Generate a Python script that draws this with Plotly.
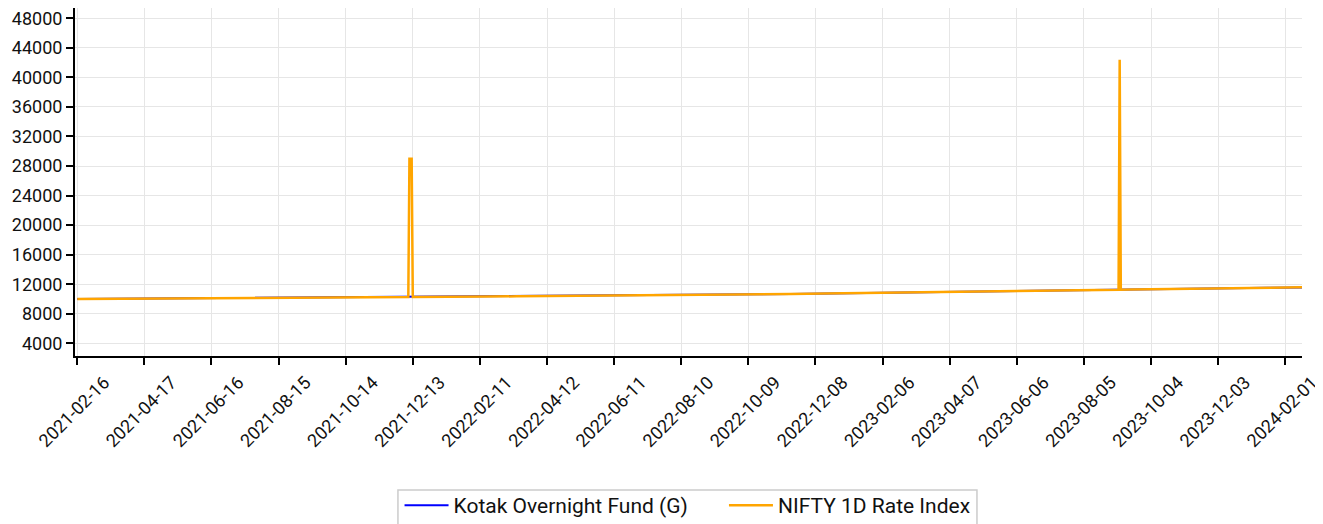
import plotly.graph_objects as go

kotak_dates = [
    "2021-02-16", "2021-03-16", "2021-04-16", "2021-05-16", "2021-06-16", "2021-07-16",
    "2021-08-16", "2021-09-16", "2021-10-16", "2021-11-16", "2021-12-16", "2022-01-16",
    "2022-02-16", "2022-03-16", "2022-04-16", "2022-05-16", "2022-06-16", "2022-07-16",
    "2022-08-16", "2022-09-16", "2022-10-16", "2022-11-16", "2022-12-16", "2023-01-16",
    "2023-02-16", "2023-03-16", "2023-04-16", "2023-05-16", "2023-06-16", "2023-07-16",
    "2023-08-16", "2023-09-16", "2023-10-16", "2023-11-16", "2023-12-16", "2024-01-16",
    "2024-02-16",
]
kotak_values = [
    10000, 10025, 10052, 10079, 10106, 10133,
    10160, 10187, 10214, 10242, 10270, 10298,
    10326, 10354, 10383, 10415, 10451, 10490,
    10533, 10578, 10626, 10676, 10728, 10782,
    10838, 10895, 10953, 11012, 11072, 11132,
    11193, 11254, 11316, 11378, 11441, 11504,
    11568,
]

nifty_dates = [
    "2021-02-16", "2021-03-16", "2021-04-16", "2021-05-16", "2021-06-16", "2021-07-16",
    "2021-08-16", "2021-09-16", "2021-10-16", "2021-11-16",
    "2021-12-09", "2021-12-10", "2021-12-12", "2021-12-13",
    "2021-12-16", "2022-01-16",
    "2022-02-16", "2022-03-16", "2022-04-16", "2022-05-16", "2022-06-16", "2022-07-16",
    "2022-08-16", "2022-09-16", "2022-10-16", "2022-11-16", "2022-12-16", "2023-01-16",
    "2023-02-16", "2023-03-16", "2023-04-16", "2023-05-16", "2023-06-16", "2023-07-16",
    "2023-08-16", "2023-09-05", "2023-09-06", "2023-09-07",
    "2023-09-16", "2023-10-16", "2023-11-16", "2023-12-16", "2024-01-16",
    "2024-02-16",
]
nifty_values = [
    10000, 10026, 10053, 10080, 10108, 10135,
    10163, 10190, 10218, 10246,
    10266, 29000, 29000, 10268,
    10275, 10303,
    10331, 10360, 10389, 10421, 10457, 10497,
    10540, 10586, 10634, 10685, 10737, 10792,
    10848, 10905, 10964, 11024, 11084, 11145,
    11207, 11250, 42400, 11252,
    11268, 11331, 11393, 11456, 11520,
    11584,
]

tick_labels = [
    "2021-02-16", "2021-04-17", "2021-06-16", "2021-08-15", "2021-10-14", "2021-12-13",
    "2022-02-11", "2022-04-12", "2022-06-11", "2022-08-10", "2022-10-09", "2022-12-08",
    "2023-02-06", "2023-04-07", "2023-06-06", "2023-08-05", "2023-10-04", "2023-12-03",
    "2024-02-01",
]
y_ticks = [4000, 8000, 12000, 16000, 20000, 24000, 28000, 32000, 36000, 40000, 44000, 48000]

fig = go.Figure()
fig.add_trace(go.Scatter(
    x=kotak_dates, y=kotak_values, mode="lines", name="Kotak Overnight Fund (G)",
    line=dict(color="#0000ff", width=2), legend="legend",
))
fig.add_trace(go.Scatter(
    x=nifty_dates, y=nifty_values, mode="lines", name="NIFTY 1D Rate Index",
    line=dict(color="#ffa500", width=2.5), legend="legend2",
))

legend_style = dict(
    orientation="h", xanchor="left", y=-0.371, yanchor="top",
    borderwidth=0, bgcolor="rgba(0,0,0,0)",
    font=dict(size=21, color="#111111"),
    itemwidth=44,
)

fig.update_layout(
    width=1315, height=516,
    margin=dict(l=67, r=21, t=0, b=168, autoexpand=False),
    paper_bgcolor="white", plot_bgcolor="white",
    font=dict(family="Roboto", size=18, color="#111111"),
    showlegend=True,
    legend=dict(x=0.2645, **legend_style),
    legend2=dict(x=0.5289, **legend_style),
    shapes=[dict(
        type="rect", xref="paper", yref="paper",
        x0=0.2632, x1=0.7351, y0=-0.385, y1=-0.56,
        line=dict(color="#cccccc", width=1.5), fillcolor="white", layer="below",
    )],
)
fig.update_xaxes(
    type="date",
    range=["2021-02-14", "2024-02-16"],
    tickmode="array", tickvals=tick_labels, ticktext=tick_labels,
    tickangle=-45, ticklabelshift=27,
    showline=True, linecolor="black", linewidth=2,
    ticks="outside", ticklen=7, tickwidth=2, tickcolor="black",
    showgrid=True, gridcolor="#e6e6e6", gridwidth=1,
    zeroline=False, automargin=False, ticklabeloverflow="allow",
)
fig.update_yaxes(
    range=[2281, 49394],
    tickmode="array", tickvals=y_ticks, tickformat="d",
    showline=True, linecolor="black", linewidth=2,
    ticks="outside", ticklen=7, tickwidth=2, tickcolor="black",
    showgrid=True, gridcolor="#e6e6e6", gridwidth=1,
    zeroline=False, automargin=False, ticklabeloverflow="allow",
)

fig.write_html("out.html")
